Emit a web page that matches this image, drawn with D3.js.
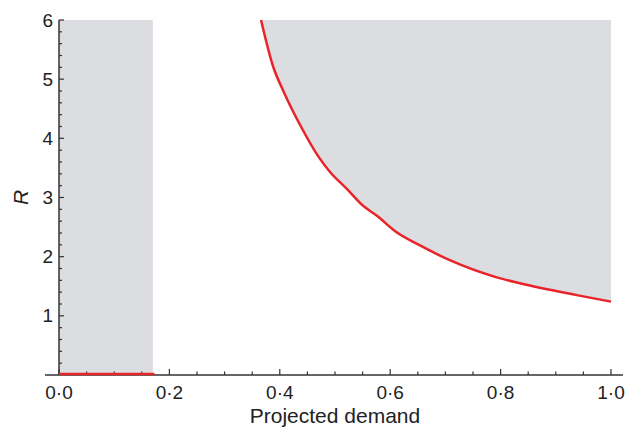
<!DOCTYPE html>
<meta charset="utf-8" />
<script src="https://d3js.org/d3.v7.min.js"></script>
<style>
  body { margin: 0; background: #fff; }
  text { font-family: "Liberation Sans", Arial, sans-serif; fill: #222; }
</style>
<div id="chart"></div>
<script>
  // boundary curve (projected demand, R)
  const demand = [0.366, 0.388, 0.406, 0.440, 0.470, 0.491, 0.521, 0.551, 0.576, 0.609, 0.654, 0.708, 0.793, 0.835, 0.938, 1.0];
  const rValues = [6.0, 5.21, 4.81, 4.17, 3.69, 3.43, 3.15, 2.86, 2.69, 2.43, 2.19, 1.94, 1.65, 1.55, 1.35, 1.24];
  // low-demand band
  const bandDemand = [0, 0.17];
  const bandLine = [0, 0.173];
  const xMajor = [0, 0.2, 0.4, 0.6, 0.8, 1.0];
  const yMajor = [1, 2, 3, 4, 5, 6];

  const margin = { top: 20, right: 18, bottom: 53, left: 59 },
    width = 629 - margin.left - margin.right,
    height = 428 - margin.top - margin.bottom;

  const svg = d3.select('#chart').append('svg')
    .attr('width', 629).attr('height', 428)
    .append('g')
    .attr('transform', `translate(${margin.left}, ${margin.top})`);

  const x = d3.scaleLinear().domain([0, 1]).range([0, 552]);
  const y = d3.scaleLinear().domain([0, 6]).range([height, 0]);

  const fill = '#dcdde0', red = '#e8242b', axisCol = '#333';

  // grey band
  svg.append('rect')
    .attr('x', x(bandDemand[0])).attr('y', y(6))
    .attr('width', x(bandDemand[1]) - x(bandDemand[0]))
    .attr('height', y(0) - y(6))
    .style('fill', fill);

  const pts = demand.map((d, i) => [d, rValues[i]]);

  // grey region above the curve
  svg.append('path')
    .datum(pts)
    .attr('d', d3.area().curve(d3.curveMonotoneX).x(d => x(d[0])).y0(y(6)).y1(d => y(d[1])))
    .style('fill', fill);

  // red curve
  svg.append('path')
    .datum(pts)
    .attr('d', d3.line().curve(d3.curveMonotoneX).x(d => x(d[0])).y(d => y(d[1])))
    .style('fill', 'none').style('stroke', red).style('stroke-width', 2.5);

  const fmt = d => d.toFixed(1).replace('.', '\u00b7');

  // x axis
  const xAxis = svg.append('g').attr('transform', `translate(0, ${height})`);
  xAxis.append('line').attr('x1', -14).attr('x2', x(1) + 12)
    .style('stroke', axisCol).style('stroke-width', 1.5);
  xAxis.selectAll('.minor').data(d3.range(0, 1.001, 0.05)).join('line')
    .attr('x1', d => x(d)).attr('x2', d => x(d))
    .attr('y1', 0).attr('y2', d => (Math.round(d * 20) % 4 === 0 ? -6 : -3.5))
    .style('stroke', axisCol).style('stroke-width', 1.2);
  xAxis.selectAll('text').data(xMajor).join('text')
    .attr('x', d => x(d)).attr('y', 24)
    .attr('text-anchor', 'middle').style('font-size', '19px')
    .text(fmt);
  svg.append('text')
    .attr('x', x(0.5)).attr('y', height + 48)
    .attr('text-anchor', 'middle').style('font-size', '21px')
    .text('Projected demand');

  // y axis
  const yAxis = svg.append('g');
  yAxis.append('line').attr('y1', y(6)).attr('y2', y(0))
    .style('stroke', axisCol).style('stroke-width', 1.5);
  yAxis.selectAll('.minor').data(d3.range(0.2, 6.001, 0.2)).join('line')
    .attr('y1', d => y(d)).attr('y2', d => y(d))
    .attr('x1', 0).attr('x2', d => (Math.abs(d - Math.round(d)) < 1e-6 ? 5 : 3))
    .style('stroke', axisCol).style('stroke-width', 1.2);
  yAxis.selectAll('text').data(yMajor).join('text')
    .attr('x', -6).attr('y', d => y(d)).attr('dy', '0.35em')
    .attr('text-anchor', 'end').style('font-size', '19px')
    .text(d => d);
  svg.append('text')
    .attr('transform', `translate(-31, ${y(3)}) rotate(-90)`)
    .attr('text-anchor', 'middle').style('font-size', '21px')
    .style('font-style', 'italic')
    .text('R');

  // red line at R = 0, drawn over the axis
  svg.append('line')
    .attr('x1', x(bandLine[0])).attr('x2', x(bandLine[1]))
    .attr('y1', y(0) - 1).attr('y2', y(0) - 1)
    .style('stroke', red).style('stroke-width', 2.5);
</script>
